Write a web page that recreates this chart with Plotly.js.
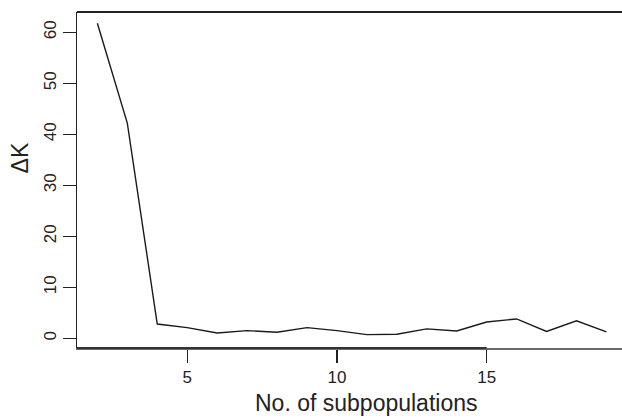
<!DOCTYPE html>
<html>
<head>
<meta charset="utf-8">
<script src="https://cdn.plot.ly/plotly-3.0.1.min.js"></script>
<style>html,body{margin:0;padding:0;background:#fff;}#chart{width:622px;height:418px;}</style>
</head>
<body>
<div id="chart"></div>
<script>
const subpopulations = [2,3,4,5,6,7,8,9,10,11,12,13,14,15,16,17,18,19];
const deltaK = [61.8,42.2,2.8,2.1,1.05,1.5,1.2,2.1,1.5,0.72,0.8,1.85,1.45,3.2,3.8,1.35,3.45,1.25];
const xTicks = [5,10,15];
const yTicks = [0,10,20,30,40,50,60];
const xTitle = 'No. of subpopulations';
const yTitle = 'ΔK';

const font = 'Liberation Sans, Arial, Helvetica, sans-serif';
const trace = {
  x: subpopulations, y: deltaK, type: 'scatter', mode: 'lines',
  line: {color: '#1a1a1a', width: 1.4}, hoverinfo: 'skip'
};
const layout = {
  width: 622, height: 418,
  margin: {l: 77, r: 0, t: 12, b: 70, pad: 0},
  paper_bgcolor: '#fff', plot_bgcolor: '#fff',
  showlegend: false,
  font: {family: font, color: '#222', size: 17},
  xaxis: {
    range: [1.32, 19.52], tickmode: 'array', tickvals: xTicks, ticktext: xTicks.map(String),
    showgrid: false, zeroline: false, showline: true, linecolor: '#6a6a6a', linewidth: 2,
    ticks: 'outside', ticklen: 13, tickwidth: 1.4, tickcolor: '#222',
    tickfont: {family: font, size: 17, color: '#222'}
  },
  yaxis: {
    range: [-1.9, 64.0], tickmode: 'array', tickvals: yTicks, ticktext: yTicks.map(String),
    showgrid: false, zeroline: false, showline: true, linecolor: '#222', linewidth: 1.5,
    ticks: 'outside', ticklen: 13, tickwidth: 1.4, tickcolor: '#222',
    tickangle: -90, ticklabelstandoff: -3.6,
    tickfont: {family: font, size: 17, color: '#222'}
  },
  shapes: [
    {type: 'line', xref: 'paper', yref: 'paper', x0: 0, x1: 1, y0: 1, y1: 1,
     line: {color: '#222', width: 1.8}},
    {type: 'line', xref: 'x', yref: 'paper', x0: 1.32, x1: 15, y0: 0, y1: 0,
     line: {color: '#333', width: 2}}
  ],
  annotations: [
    {text: yTitle, xref: 'paper', yref: 'paper', x: -0.104, y: 0.565,
     showarrow: false, textangle: -90, xanchor: 'center', yanchor: 'middle',
     font: {family: font, size: 23, color: '#222'}},
    {text: xTitle, xref: 'paper', yref: 'paper', x: (366 - 77) / 545, y: -0.165,
     showarrow: false, xanchor: 'center', yanchor: 'middle',
     font: {family: font, size: 23, color: '#222'}}
  ]
};
Plotly.newPlot('chart', [trace], layout, {staticPlot: true, displayModeBar: false});
</script>
</body>
</html>
